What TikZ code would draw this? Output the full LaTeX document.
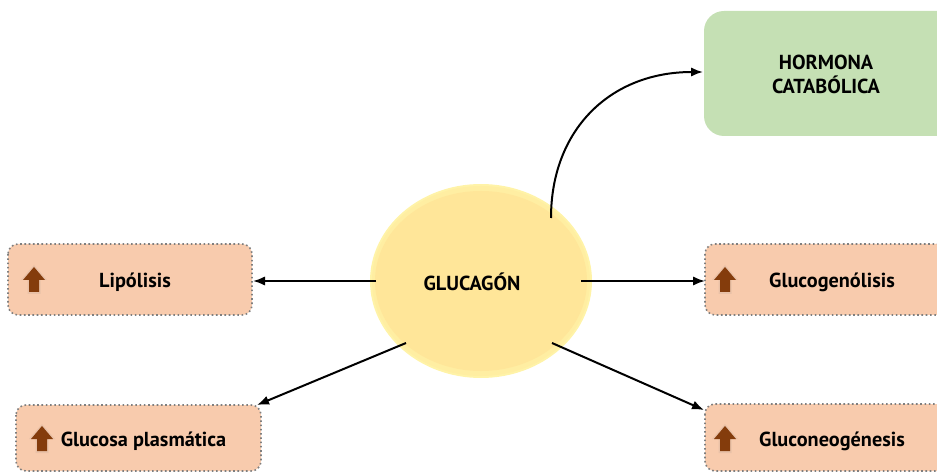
\documentclass[tikz,border=0pt]{standalone}
\usepackage{fontspec}
\setmainfont{PT Sans}
\usetikzlibrary{shapes.geometric,arrows.meta}
\definecolor{peach}{HTML}{F8CBAD}
\definecolor{mint}{HTML}{C5E0B4}
\definecolor{sun}{HTML}{FFE699}
\definecolor{sunglow}{HTML}{FFF3A8}
\definecolor{rust}{HTML}{843C0C}
\definecolor{dotgray}{HTML}{7F7F7F}
\tikzset{
  effectbox/.style={draw=dotgray, line width=1.2pt, dotted, fill=peach, rounded corners=7.5pt},
  label/.style={font=\bfseries\fontsize{15.2}{18}\selectfont, text=black, align=center},
  link/.style={-{Latex[length=9pt,width=7pt]}, line width=1.5pt, black},
  uparrow/.pic={
    \fill[rust!40, opacity=0.35] (-13,0) -- (0,-15) -- (13,0) -- (6.5,0) -- (6.5,14) -- (-6.5,14) -- (-6.5,0) -- cycle;
    \fill[rust] (-11,0) -- (0,-13) -- (11,0) -- (5,0) -- (5,12) -- (-5,12) -- (-5,0) -- cycle;
  }
}
\begin{document}
\begin{tikzpicture}[x=0.75pt,y=-0.75pt]
\useasboundingbox (0,0) rectangle (937,473);

% central hormone with a soft yellow halo
\fill[sunglow] (481,281) ellipse [x radius=111, y radius=97];
\fill[sunglow!60!sun] (481,281) ellipse [x radius=109, y radius=95];
\node[ellipse, fill=sun, minimum width=212*0.75pt, minimum height=180*0.75pt, inner sep=0pt] (glu) at (481,281) {};
\node[label] at (472,282) {GLUCAGÓN};

% effect boxes
\draw[effectbox] (8,244) rectangle (252,315);
\coordinate (lip) at (253,281);
\node[label] at (135,282) {Lipólisis};
\pic at (34,280) {uparrow};

\draw[effectbox] (16,405) rectangle (261,471);
\coordinate (gpl) at (257,405);
\node[label] at (143.5,441) {Glucosa plasmática};
\pic at (42,439) {uparrow};

\draw[effectbox] (705,244) rectangle (950,315);
\coordinate (gge) at (705,281);
\node[label] at (832,282) {Glucogenólisis};
\pic at (725,280) {uparrow};

\draw[effectbox] (705,404) rectangle (950,471);
\coordinate (gne) at (704,410);
\node[label] at (832,441) {Gluconeogénesis};
\pic at (725,439) {uparrow};

% hormone class
\fill[mint, rounded corners=15pt] (704,11) rectangle (960,136);
\coordinate (cat) at (703,72);
\node[label] at (826,74) {HORMONA\\CATABÓLICA};

% connectors
\coordinate (gl) at (376,281);
\coordinate (gr) at (581,281);
\coordinate (gbl) at (406,343);
\coordinate (gbr) at (552,343);
\coordinate (gtop) at (551,218);
\draw[link] (gl) -- (lip);
\draw[link] (gr) -- (gge);
\draw[link] (gbl) -- (gpl);
\draw[link] (gbr) -- (gne);
\draw[link] (gtop) .. controls (551,130) and (610,72) .. (cat);
\end{tikzpicture}
\end{document}
